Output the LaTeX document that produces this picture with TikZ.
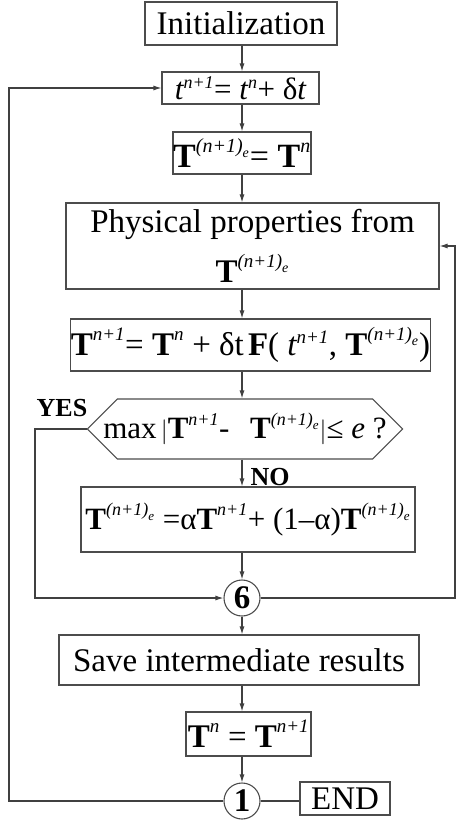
\documentclass[tikz,border=0pt]{standalone}
\usepackage{amsmath}
\usepackage{fontspec}
\setmainfont{Liberation Serif}
\usepackage{tikz}
\usetikzlibrary{positioning,arrows.meta,shapes.symbols}

\DeclareMathSizes{33}{33}{19}{14}
\DeclareMathSizes{31}{31}{18}{13}
\DeclareMathSizes{34}{34}{20}{14}

\newcommand{\Tb}{\textbf{T}}
\newcommand{\Tpe}{\Tb^{\textit{(n+1)}_{\textit{e}}}}
\newcommand{\tit}{\textit{t}}
\newcommand{\igual}{\text{= }}
\newcommand{\mas}{\text{ + }}

\begin{document}
\begin{tikzpicture}[
    x=1pt, y=-1pt,
    caja/.style={
        draw=black!70,
        line width=1.1pt,
        align=center,
        inner sep=0pt,
        font=\fontsize{33}{50}\selectfont
    },
    nudo/.style={
        circle,
        draw=black!70,
        line width=1.1pt,
        minimum size=36pt,
        inner sep=0pt,
        font=\fontsize{33}{36}\selectfont\bfseries
    },
    etiqueta/.style={font=\fontsize{26}{28}\selectfont\bfseries},
    flecha/.style={-{Latex[length=8pt,width=5pt]},black!75,line width=1.1pt},
    linea/.style={black!75,line width=1.1pt}
]
\useasboundingbox (0,0) rectangle (457,826);

\coordinate (eje) at (242,0);
\coordinate (izq) at (9,0);
\coordinate (si) at (35,0);
\coordinate (der) at (455,0);

\node[caja, minimum width=192, minimum height=43] (init) at (241,23.5) {Initialization};
\node[caja, minimum width=157, minimum height=32, font=\fontsize{31}{34}\selectfont] (paso) at (240.5,88)
    {$\tit^{\textit{n+1}}\igual\tit^{\textit{n}}\text{+ δ}\tit$};
\node[caja, minimum width=138, minimum height=42, font=\fontsize{34}{38}\selectfont] (copia) at (242,153)
    {$\Tpe\igual\Tb^{\textit{n}}$};
\node[caja, minimum width=373, minimum height=86] (prop) at (252.5,246)
    {Physical properties from\\$\Tpe$};
\node[caja, minimum width=357, minimum height=52] (avance) at (250.5,345)
    {$\Tb^{\textit{n+1}}\igual\Tb^{\textit{n}}\mas\text{δt}\,\textbf{F}\text{( }\tit^{\textit{n+1}}\text{, }\Tpe\text{)}$};
\node[caja, shape=signal, signal to=west and east, signal pointer angle=90,
      inner xsep=-14pt, minimum height=60, font=\fontsize{31}{34}\selectfont] (prueba) at (245,429)
    {$\text{max}\,|\Tb^{\textit{n+1}}\text{-}\;\;\;\Tpe|\text{≤ \textit{e} ?}$};
\node[caja, minimum width=334, minimum height=65, font=\fontsize{31}{34}\selectfont] (relaja) at (248,519.5)
    {$\Tpe\text{ =α}\Tb^{\textit{n+1}}\text{+ (1–α)}\Tpe$};
\node[nudo] (seis) at (242,598) {6};
\node[caja, minimum width=360, minimum height=50] (guarda) at (239,660) {Save intermediate results};
\node[caja, minimum width=125, minimum height=44] (cambio) at (248.5,734)
    {$\Tb^{\textit{n}}\text{ = }\Tb^{\textit{n+1}}$};
\node[nudo] (uno) at (242,801) {1};
\node[caja, minimum width=90, minimum height=33] (fin) at (345,798.5) {END};

\node[etiqueta] (yes) at (62,408) {YES};
\node[etiqueta] (no) at (270,477) {NO};

% main line
\draw[flecha] (init.south -| eje) -- (paso.north -| eje);
\draw[flecha] (paso.south -| eje) -- (copia.north -| eje);
\draw[flecha] (copia.south -| eje) -- (prop.north -| eje);
\draw[flecha] (prop.south -| eje) -- (avance.north -| eje);
\draw[flecha] (avance.south -| eje) -- (prueba.north -| eje);
\draw[flecha] (prueba.south -| eje) -- (relaja.north -| eje);
\draw[flecha] (relaja.south -| eje) -- (seis.north);
\draw[flecha] (seis.south) -- (guarda.north -| eje);
\draw[flecha] (guarda.south -| eje) -- (cambio.north -| eje);
\draw[flecha] (cambio.south -| eje) -- (uno.north);

% loops
\draw[flecha] (prueba.west) -- (prueba.west -| si) -- (seis.west -| si) -- (seis.west);
\draw[flecha] (seis.east) -- (seis.east -| der) -- (prop.east -| der) -- (prop.east);
\draw[flecha] (uno.west) -- (uno.west -| izq) -- (paso.west -| izq) -- (paso.west);
\draw[linea] (uno.east) -- (uno.east -| fin.west);

\end{tikzpicture}
\end{document}
